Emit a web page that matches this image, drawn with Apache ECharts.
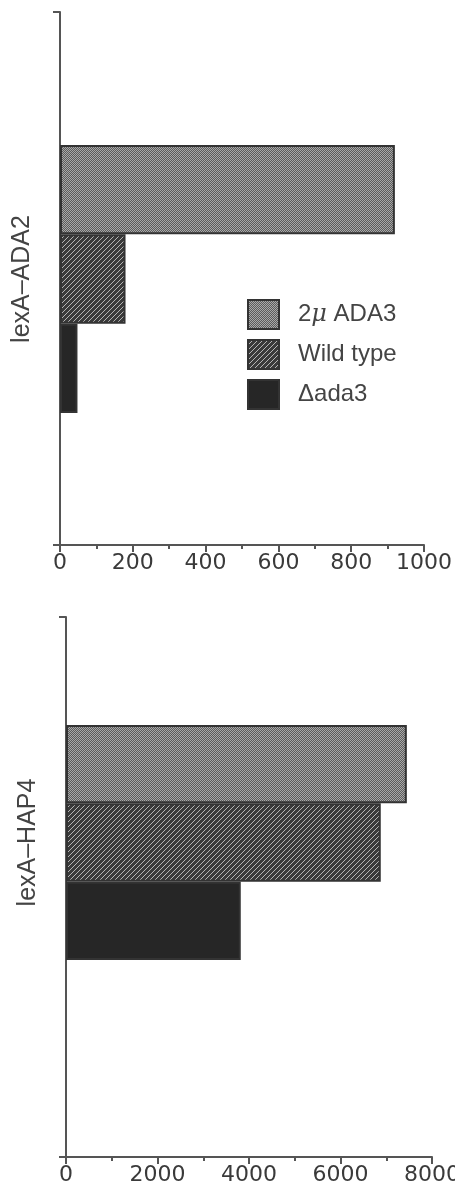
<!DOCTYPE html>
<html>
<head>
<meta charset="utf-8">
<script src="https://cdn.jsdelivr.net/npm/echarts@6/dist/echarts.min.js"></script>
<style>
  html, body { margin: 0; padding: 0; background: #fff; }
  #chart { width: 455px; height: 1190px; }
</style>
</head>
<body>
<div id="chart"></div>
<script>
// data
const seriesNames = ["2μ ADA3", "Wild type", "Δada3"];
const ada2Category = ["lexA–ADA2"];
const ada2Values = [920, 180, 48];
const hap4Category = ["lexA–HAP4"];
const hap4Values = [7450, 6880, 3820];
const ada2Axis = { max: 1000, interval: 200 };
const hap4Axis = { max: 8000, interval: 2000 };

const axisGray = "#555";
const textGray = "#444";
const tickFont = "DejaVu Sans";
const textFont = "Liberation Sans";

// small canvas tiles for the fill patterns
const makeTile = (size, draw) => {
  const c = document.createElement("canvas");
  c.width = size;
  c.height = size;
  draw(c.getContext("2d"));
  return c;
};
const checkTile = makeTile(2, (g) => {
  g.fillStyle = "#5c5c5c";
  g.fillRect(0, 0, 2, 2);
  g.fillStyle = "#a9a9a9";
  g.fillRect(0, 0, 1, 1);
  g.fillRect(1, 1, 1, 1);
});
const hatchTile = makeTile(5, (g) => {
  g.fillStyle = "#3a3a3a";
  g.fillRect(0, 0, 5, 5);
  g.strokeStyle = "#b5b5b5";
  g.lineWidth = 1;
  g.beginPath();
  g.moveTo(-1, 6);
  g.lineTo(6, -1);
  g.stroke();
});
const fills = [
  { image: checkTile, repeat: "repeat" },
  { image: hatchTile, repeat: "repeat" },
  "#262626",
];

const myChart = echarts.init(document.getElementById("chart"));

// frame grid holds the visible axes, bar grid holds the bars + category label
const frameX = (idx, cfg) => ({
  type: "value",
  gridIndex: idx,
  min: 0,
  max: cfg.max,
  interval: cfg.interval,
  axisLine: { show: true, lineStyle: { color: axisGray, width: 2 } },
  axisTick: { show: true, length: 7, lineStyle: { color: axisGray, width: 2 } },
  minorTick: { show: true, splitNumber: 2, length: 4, lineStyle: { color: axisGray, width: 2 } },
  splitLine: { show: false },
  axisLabel: {
    color: "#3a3a3a",
    fontSize: 22,
    fontFamily: tickFont,
    margin: 7,
    formatter: (v) => String(v),
  },
});
const frameY = (idx) => ({
  type: "value",
  gridIndex: idx,
  min: 0,
  max: 1,
  interval: 1,
  axisLine: { show: true, lineStyle: { color: axisGray, width: 2 } },
  axisTick: { show: true, length: 7, lineStyle: { color: axisGray, width: 2 } },
  axisLabel: { show: false },
  splitLine: { show: false },
});
const barX = (idx, cfg) => ({
  type: "value",
  gridIndex: idx,
  min: 0,
  max: cfg.max,
  show: false,
});
const barY = (idx, cats) => ({
  type: "category",
  gridIndex: idx,
  data: cats,
  inverse: true,
  axisLine: { show: false },
  axisTick: { show: false },
  axisLabel: {
    rotate: 90,
    margin: 25,
    color: textGray,
    fontSize: 25,
    fontFamily: textFont,
  },
});

let tempSeries = [];
const addBars = (vals, gridIdx) => {
  vals.map((v, i) => {
    tempSeries.push({
      name: seriesNames[i],
      type: "bar",
      xAxisIndex: gridIdx,
      yAxisIndex: gridIdx,
      data: [v],
      barGap: "0%",
      barCategoryGap: "0%",
      itemStyle: { color: fills[i], borderColor: "#333", borderWidth: 2 },
      emphasis: { disabled: true },
    });
  });
};
addBars(ada2Values, 1);
addBars(hap4Values, 3);

// fixed grid boxes, no auto shrinking for labels near the edge
const box = (left, top, width, height) => ({
  left, top, width, height,
  containLabel: false,
  outerBoundsMode: "none",
});

let option = {
  animation: false,
  backgroundColor: "#fff",
  textStyle: { fontFamily: textFont },
  grid: [
    box(60, 12, 364, 533),
    box(60, 145, 364, 268),
    box(66, 617, 366, 540),
    box(66, 725, 366, 235),
  ],
  xAxis: [frameX(0, ada2Axis), barX(1, ada2Axis), frameX(2, hap4Axis), barX(3, hap4Axis)],
  yAxis: [frameY(0), barY(1, ada2Category), frameY(2), barY(3, hap4Category)],
  legend: {
    data: seriesNames,
    orient: "vertical",
    left: 247,
    top: 299,
    padding: 0,
    icon: "rect",
    itemWidth: 31,
    itemHeight: 29,
    itemGap: 9,
    selectedMode: false,
    formatter: (name) => (name === "2μ ADA3" ? "2{i|μ} ADA3" : name),
    textStyle: {
      color: textGray,
      fontSize: 24,
      fontFamily: textFont,
      padding: [0, 0, 0, 14],
      rich: { i: { fontStyle: "italic", fontSize: 24, color: textGray, fontFamily: "DejaVu Serif" } },
    },
  },
  series: tempSeries,
};
myChart.setOption(option);
</script>
</body>
</html>
